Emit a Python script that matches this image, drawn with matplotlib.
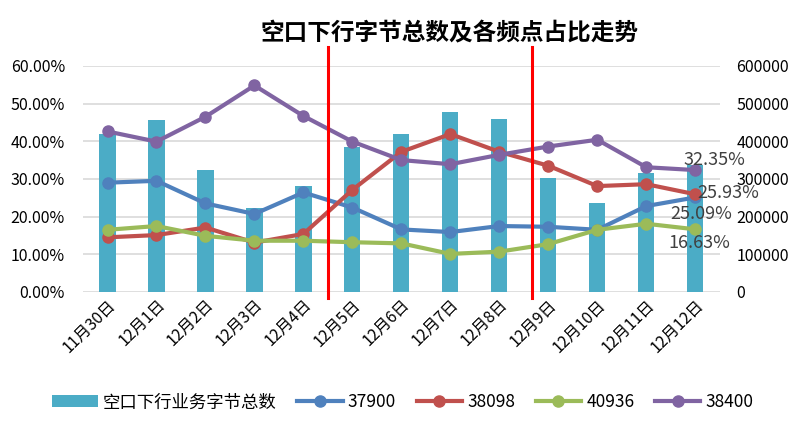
import matplotlib
matplotlib.use("Agg")
import matplotlib.pyplot as plt
import numpy as np

plt.rcParams['font.family'] = ['Noto Sans CJK SC', 'DejaVu Sans']

# 数据
dates = ["11月30日", "12月1日", "12月2日", "12月3日", "12月4日", "12月5日", "12月6日",
         "12月7日", "12月8日", "12月9日", "12月10日", "12月11日", "12月12日"]
bytes_total = [420000, 456000, 324000, 224000, 281000, 386000, 419000,
               478000, 459000, 303000, 237000, 317000, 338000]
s37900 = [29.0, 29.5, 23.5, 20.7, 26.4, 22.4, 16.6, 15.9, 17.5, 17.3, 16.5, 22.8, 25.09]
s38098 = [14.5, 15.1, 17.1, 13.1, 15.4, 27.1, 37.2, 41.9, 37.2, 33.5, 28.1, 28.6, 25.93]
s40936 = [16.5, 17.5, 14.9, 13.6, 13.6, 13.2, 12.9, 10.1, 10.7, 12.7, 16.5, 18.1, 16.63]
s38400 = [42.6, 39.9, 46.5, 54.8, 46.7, 39.9, 35.0, 33.9, 36.4, 38.6, 40.4, 33.1, 32.35]
split_pos = [4.5, 8.67]

line_series = [("37900", s37900, "#4F81BD"), ("38098", s38098, "#C0504D"),
               ("40936", s40936, "#9BBB59"), ("38400", s38400, "#8064A2")]

fig = plt.figure(figsize=(8.06, 4.25), dpi=100)
ax = fig.add_axes([0.103, 0.313, 0.79, 0.532])
ax2 = ax.twinx()
x = np.arange(len(dates))

# 柱状图（右轴）
bars = ax.bar(x, bytes_total, width=0.33, color="#4BACC6", label="空口下行业务字节总数", zorder=2)
ax.set_ylim(0, 600000)
ax.set_yticks(np.arange(0, 600001, 100000))
ax.yaxis.tick_right()
ax.set_xlim(-0.5, len(dates) - 0.5)
ax.grid(axis="y", color="#D9D9D9", linewidth=1.2, zorder=0)
ax.set_axisbelow(True)
for s in ax.spines.values():
    s.set_visible(False)
ax.tick_params(axis="y", length=0, labelsize=11.5, pad=12)
ax.tick_params(axis="x", length=0, pad=3)
ax.set_xticks(x)
ax.set_xticklabels(dates, rotation=45, ha="right", rotation_mode="anchor", fontsize=11.5)

# 折线（左轴）
ax2.yaxis.tick_left()
ax2.set_ylim(0, 60)
ax2.set_yticks(np.arange(0, 61, 10))
ax2.set_yticklabels([f"{v:.2f}%" for v in np.arange(0, 61, 10)])
ax2.tick_params(axis="y", length=0, labelsize=11.5, pad=13)
for s in ax2.spines.values():
    s.set_visible(False)

handles = [bars]
for name, vals, col in line_series:
    h, = ax2.plot(x, vals, color=col, linewidth=3, marker="o", markersize=8, label=name, zorder=3)
    handles.append(h)

# 最后一个点的数据标签
lab_style = dict(fontsize=13, color="#404040")
ax2.annotate(f"{s38400[-1]:.2f}%", (x[-1], s38400[-1]), xytext=(14, 7), textcoords="offset points",
             ha="center", va="center", **lab_style)
ax2.annotate(f"{s38098[-1]:.2f}%", (x[-1], s38098[-1]), xytext=(24, 1), textcoords="offset points",
             ha="center", va="center", **lab_style)
ax2.annotate(f"{s37900[-1]:.2f}%", (x[-1], s37900[-1]), xytext=(4, -12), textcoords="offset points",
             ha="center", va="center", **lab_style)
ax2.annotate(f"{s40936[-1]:.2f}%", (x[-1], s40936[-1]), xytext=(3, -10), textcoords="offset points",
             ha="center", va="center", **lab_style)

# 红色分隔线
for p in split_pos:
    ax2.axvline(p, ymin=-0.027, ymax=1.084, color="#FF0000", linewidth=2.2, clip_on=False, zorder=4)

fig.text(0.558, 0.922, "空口下行字节总数及各频点占比走势", ha="center", va="center",
         fontsize=17, fontweight="bold")

fig.legend(handles=handles, loc="center", bbox_to_anchor=(0.5, 0.053), ncol=5, frameon=False,
           fontsize=12.5, handlelength=2.6, handletextpad=0.3, columnspacing=1.2)

fig.savefig("out.png", dpi=100)
